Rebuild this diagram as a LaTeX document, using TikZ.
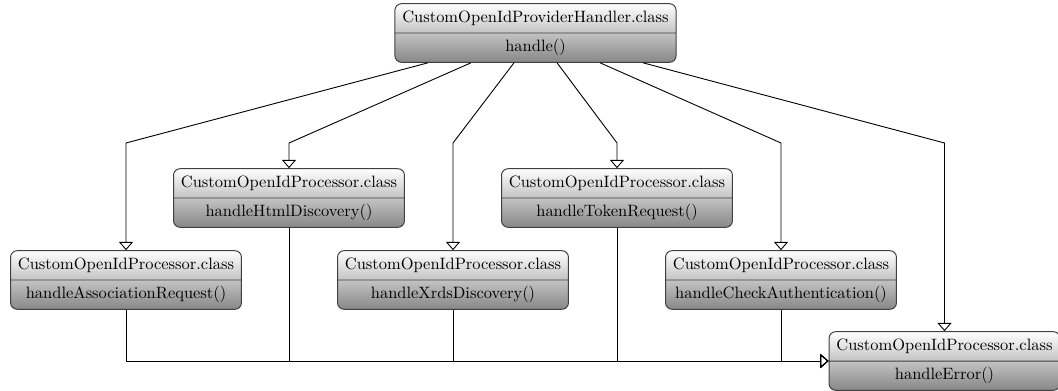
\documentclass[tikz,border=0pt]{standalone}
\usetikzlibrary{shapes.multipart,arrows.meta,calc}
\begin{document}
\begin{tikzpicture}[x=0.6075pt,y=-0.6075pt,
  cls/.style={rectangle split, rectangle split parts=2, draw=black!75, line width=0.6pt,
    rounded corners=4pt, top color=white, bottom color=black!47,
    inner xsep=4.5pt, inner ysep=2.6pt, align=center},
  inh/.style={line width=0.55pt, -{Triangle[open,length=5pt,width=8.5pt]}}]
\useasboundingbox (0,0) rectangle (1058,390);
\node[cls] (top) at (535.5,33) {\strut CustomOpenIdProviderHandler.class\nodepart{two}\strut handle()};
\node[cls] (A) at (126,280) {\strut CustomOpenIdProcessor.class\nodepart{two}\strut handleAssociationRequest()};
\node[cls] (B) at (289,198) {\strut CustomOpenIdProcessor.class\nodepart{two}\strut handleHtmlDiscovery()};
\node[cls] (C) at (453,280) {\strut CustomOpenIdProcessor.class\nodepart{two}\strut handleXrdsDiscovery()};
\node[cls] (D) at (617,198) {\strut CustomOpenIdProcessor.class\nodepart{two}\strut handleTokenRequest()};
\node[cls] (E) at (781,280) {\strut CustomOpenIdProcessor.class\nodepart{two}\strut handleCheckAuthentication()};
\node[cls] (F) at (944.5,361) {\strut CustomOpenIdProcessor.class\nodepart{two}\strut handleError()};
\coordinate (bend) at (0,143);
\draw[inh] ($(top.south)+(-107.5,0)$) -- (A.north |- bend) -- (A.north);
\draw[inh] ($(top.south)+(-64.5,0)$) -- (B.north |- bend) -- (B.north);
\draw[inh] ($(top.south)+(-21.5,0)$) -- (C.north |- bend) -- (C.north);
\draw[inh] ($(top.south)+(21.5,0)$) -- (D.north |- bend) -- (D.north);
\draw[inh] ($(top.south)+(64.5,0)$) -- (E.north |- bend) -- (E.north);
\draw[inh] ($(top.south)+(107.5,0)$) -- (F.north |- bend) -- (F.north);
\foreach \n in {A,B,C,D,E}{
  \draw[inh] (\n.south) |- (F.west);
}
\end{tikzpicture}
\end{document}
